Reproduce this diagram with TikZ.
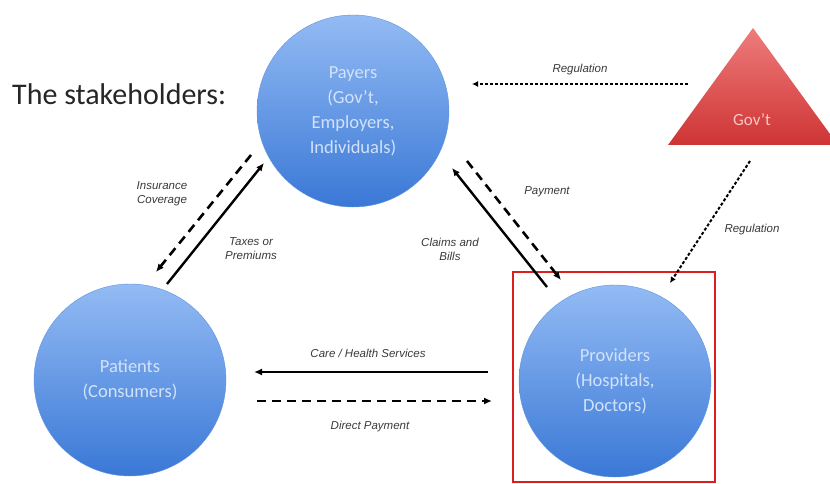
\documentclass[tikz,border=0pt]{standalone}
\usepackage{fontspec}
\setmainfont{Carlito}
\newfontfamily\labfont{Liberation Sans}
\usetikzlibrary{arrows.meta,shadows}
\definecolor{ctop}{HTML}{93BBF4}
\definecolor{cbot}{HTML}{3A78D6}
\definecolor{ctext}{HTML}{D2E2FA}
\definecolor{gtop}{HTML}{EE7C7C}
\definecolor{gbot}{HTML}{CF3434}
\definecolor{labc}{HTML}{3A3A3A}
\tikzset{
  actor/.style={circle, minimum size=192pt, inner sep=0pt, top color=ctop, bottom color=cbot,
    draw=cbot!80!white, line width=0.4pt, text=ctext, font=\fontsize{18.5}{25}\selectfont, align=center},
  flowsolid/.style={line width=2.4pt, -{Latex[length=8pt,width=7pt]}},
  flowdash/.style={line width=2.6pt, dash pattern=on 9pt off 6pt, -{Latex[length=8pt,width=7pt]}},
  regline/.style={line width=2pt, dash pattern=on 3pt off 2pt, -{Latex[length=6pt,width=6pt]}},
  lab/.style={font=\labfont\itshape\fontsize{11.5}{14}\selectfont, text=labc, align=center, inner sep=0pt}
}
\begin{document}
\begin{tikzpicture}[x=1pt,y=-1pt]
\useasboundingbox (0,0) rectangle (830,484);
\fill[white] (0,0) rectangle (830,484);
% stakeholders
\node[anchor=west, font=\fontsize{30}{33}\selectfont, text=black!85, inner sep=0pt] (title) at (12,94) {The stakeholders:};
% circles
\node[actor] (payers) at (353,111) {Payers\\(Gov't,\\Employers,\\Individuals)};
\node[actor] (patients) at (130,380) {Patients\\(Consumers)};
\node[actor] (providers) at (615,381) {Providers\\(Hospitals,\\Doctors)};
% red frame
\node[draw={rgb,255:red,220;green,30;blue,30}, line width=2.4pt, minimum width=202pt, minimum height=210pt, inner sep=0pt] (frame) at (614,377) {};
% gov triangle
\begin{scope}
\clip (0,0) rectangle (830,484);
\shade[top color=gtop, bottom color=gbot] (668,145) -- (838,145) -- (753,28) -- cycle;
\end{scope}
\node[text={rgb,255:red,248;green,200;blue,200}, font=\fontsize{17}{20}\selectfont] (gov) at (752,120) {Gov't};
% connector end coordinates
\coordinate (regA) at (688,84);
\coordinate (regB) at (472,84);
\coordinate (regC) at (750,161);
\coordinate (regD) at (670,283);
\coordinate (insA) at (251,155);
\coordinate (insB) at (156,272);
\coordinate (taxA) at (167,284);
\coordinate (taxB) at (264,163);
\coordinate (clA) at (547,287);
\coordinate (clB) at (452,168);
\coordinate (payA) at (467,161);
\coordinate (payB) at (561,280);
\coordinate (careA) at (488,372);
\coordinate (careB) at (254,372);
\coordinate (dirA) at (257,401);
\coordinate (dirB) at (492,401);
% connectors
\draw[regline] (regA) -- (regB);
\draw[regline] (regC) -- (regD);
\draw[flowdash] (insA) -- (insB);
\draw[flowsolid] (taxA) -- (taxB);
\draw[flowsolid] (clA) -- (clB);
\draw[flowdash] (payA) -- (payB);
\draw[flowsolid] (careA) -- (careB);
\draw[flowdash] (dirA) -- (dirB);
% labels
\node[lab] (lreg1) at (580,70) {Regulation};
\node[lab] (lreg2) at (752,230) {Regulation};
\node[lab] (lins) at (162,194) {Insurance\\Coverage};
\node[lab] (ltax) at (251,249) {Taxes or\\Premiums};
\node[lab] (lcl) at (450,249) {Claims and\\Bills};
\node[lab] (lpay) at (547,192) {Payment};
\node[lab] (lcare) at (368,353) {Care / Health Services};
\node[lab] (ldir) at (370,427) {Direct Payment};
\end{tikzpicture}
\end{document}
